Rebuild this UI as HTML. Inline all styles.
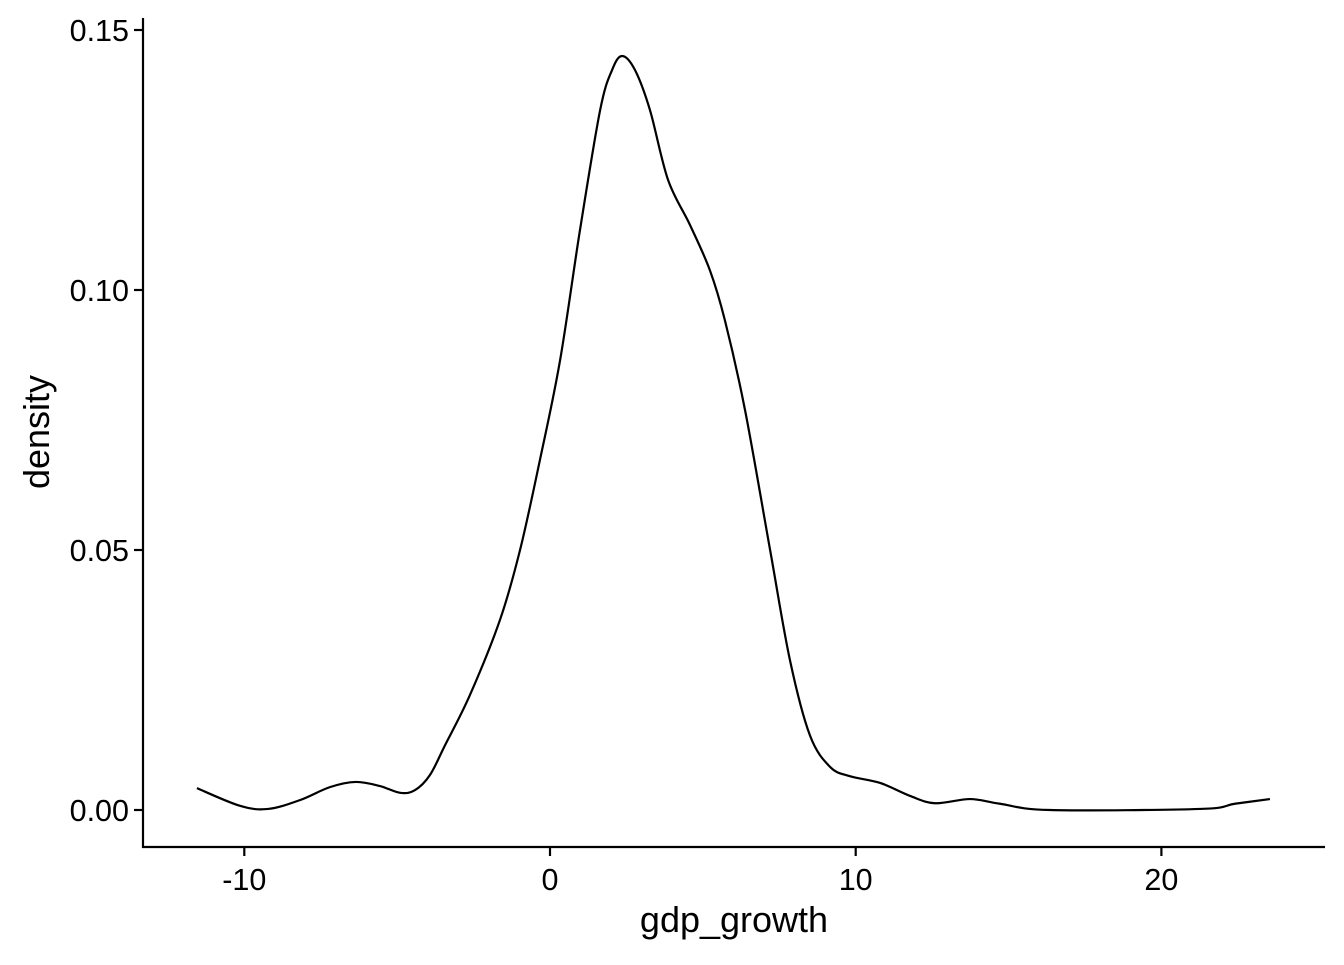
<!DOCTYPE html>
<html><head><meta charset="utf-8"><style>
body{margin:0;background:#fff}
text{font-family:"Liberation Sans",sans-serif}
</style></head><body>
<svg id="chart" width="1344" height="960"></svg>
<script>
const xVals=[-11.55,-10.14,-9.22,-8.18,-7.2,-6.35,-5.56,-4.9,-4.42,-3.93,-3.43,-2.62,-1.64,-0.98,-0.33,0.33,0.98,1.64,2.03,2.36,2.78,3.27,3.86,4.58,5.23,5.72,6.38,7.2,7.85,8.5,9.16,9.81,10.8,11.78,12.6,13.74,14.72,16.36,21.26,22.4,23.55];
const densVals=[0.0042,0.0008,0.0002,0.0019,0.0044,0.0054,0.0046,0.0033,0.0038,0.0067,0.0125,0.0221,0.0365,0.05,0.0673,0.0865,0.1115,0.1346,0.1423,0.145,0.1423,0.1346,0.1212,0.1125,0.1038,0.0942,0.0769,0.05,0.0288,0.0144,0.0083,0.0065,0.0052,0.0027,0.0013,0.0021,0.0012,0.0,0.0002,0.0012,0.0021];
const xTicks=[-10,0,10,20];
const yTicks=[0,0.05,0.10,0.15];
const yTickLabels=["0.00","0.05","0.10","0.15"];
const sx=v=>550+v*30.57;
const sy=v=>810-v*5200;
const svg=document.getElementById('chart');
const NS='http://www.w3.org/2000/svg';
function mk(t,a,txt){const e=document.createElementNS(NS,t);for(const k in a)e.setAttribute(k,a[k]);if(txt!==undefined)e.textContent=txt;svg.appendChild(e);return e;}
let e=mk('line',{x1:143,y1:18,x2:143,y2:848,stroke:'#000','stroke-width':2.2});


e=mk('line',{x1:142,y1:847,x2:1325,y2:847,stroke:'#000','stroke-width':2.2});


yTicks.forEach((v,i)=>{
  const t=mk('line',{x1:134,x2:143,y1:sy(v),y2:sy(v),stroke:'#000','stroke-width':2.2});
  
  
  const l=mk('text',{x:129,y:sy(v)+11,'text-anchor':'end','font-size':30.5,fill:'#000'},yTickLabels[i]);
  
  
});
xTicks.forEach(v=>{
  const t=mk('line',{x1:sx(v),x2:sx(v),y1:847,y2:856,stroke:'#000','stroke-width':2.2});
  
  
  const l=mk('text',{x:sx(v),y:890,'text-anchor':'middle','font-size':30.5,fill:'#000'},String(v));
  
  
});
e=mk('text',{x:734,y:932,'text-anchor':'middle','font-size':36},'gdp_growth');


e=mk('text',{x:0,y:0,'text-anchor':'middle','font-size':36,transform:'translate(49,432) rotate(-90)'},'density');


const P=xVals.map((x,i)=>[sx(x),sy(densVals[i])]);
let d='M'+P[0][0]+','+P[0][1];
for(let i=0;i<P.length-1;i++){
  const p0=P[Math.max(0,i-1)],p1=P[i],p2=P[i+1],p3=P[Math.min(P.length-1,i+2)];
  const c1=[p1[0]+(p2[0]-p0[0])/6,p1[1]+(p2[1]-p0[1])/6];
  const c2=[p2[0]-(p3[0]-p1[0])/6,p2[1]-(p3[1]-p1[1])/6];
  d+=` C${c1[0]},${c1[1]} ${c2[0]},${c2[1]} ${p2[0]},${p2[1]}`;
}
e=mk('path',{d:d,fill:'none',stroke:'#000','stroke-width':2.2});


</script>
</body></html>
